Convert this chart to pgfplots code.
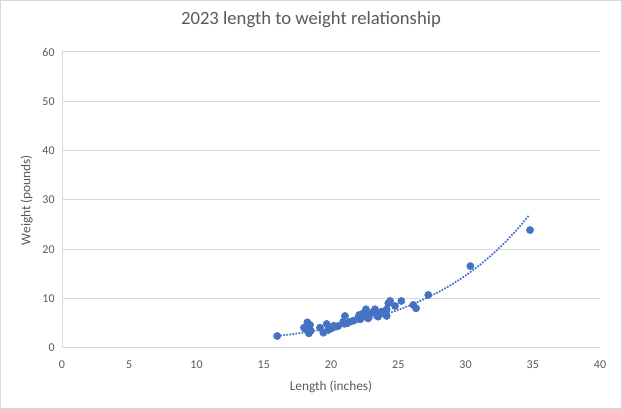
\documentclass[border=0pt]{standalone}
\usepackage{pgfplots}
\pgfplotsset{compat=1.18}
\usepackage{fontspec}
\setmainfont{Carlito}
\definecolor{mk}{HTML}{4472C4}
\definecolor{gridc}{HTML}{D9D9D9}
\definecolor{txt}{HTML}{595959}
\begin{document}
\begin{tikzpicture}[x=0.75pt,y=0.75pt]
\useasboundingbox (0,0) rectangle (622,409);
\draw[gridc,line width=0.75pt] (0.5,0.5) rectangle (621.5,408.5);
\node[txt,font=\fontsize{14}{16}\selectfont] at (311,389) {2023 length to weight relationship};
\begin{axis}[
  at={(46.5pt,45.75pt)}, anchor=origin,
  scale only axis, width=403.5pt, height=222pt,
  xmin=0, xmax=40, ymin=0, ymax=60,
  xtick={0,5,...,40}, ytick={0,10,...,60},
  ymajorgrids, grid style={gridc,line width=0.75pt},
  axis line style={gridc,line width=0.75pt},
  axis x line*=bottom, axis y line*=left,
  separate axis lines,
  major tick length=0pt,
  tick label style={txt,font=\fontsize{9}{10}\selectfont},
  xticklabel style={yshift=-6pt},
  yticklabel style={xshift=-2pt},
  /pgf/number format/assume math mode=true,
  xlabel={Length (inches)}, ylabel={Weight (pounds)},
  label style={txt,font=\fontsize{10}{11}\selectfont},
  xlabel style={yshift=-2.5pt},
  ylabel style={yshift=0.5pt},
  clip=false,
]
\addplot[mk, densely dotted, line width=1.3pt] coordinates {
(16,2.43) (17,2.76) (18,3.14) (19,3.57) (20,4.06) (21,4.62) (22,5.25) (23,5.97) (24,6.79) (25,7.72) (26,8.78) (27,9.98) (28,11.34) (29,12.90) (30,14.67) (31,16.67) (32,18.97) (33,21.56) (34,24.52) (34.7,26.82)
};
\addplot[only marks, mark=*, mark size=2.7pt, mk, mark options={draw=mk,fill=mk}] coordinates {
(16.0,2.43) (18.24,5.2) (18.44,4.67) (18.12,3.79) (18.49,3.51) (18.36,2.97) (17.99,4.12) (18.3,4.2)
(19.18,4.12) (19.43,3.1) (19.68,4.87) (20.05,4.0) (20.37,4.32) (20.54,4.46) (19.8,3.65) (20.2,4.5)
(21.04,6.49) (20.91,5.33) (21.2,5.0) (21.41,5.33) (21.66,5.54) (21.0,4.9)
(22.1,6.7) (22.16,5.8) (22.4,7.04) (22.6,7.85) (22.77,6.0) (22.03,6.2) (22.3,6.3) (22.9,6.8)
(23.27,7.85) (23.44,7.04) (23.5,6.35) (23.77,7.37) (24.0,6.9) (24.14,7.85) (24.26,9.07) (24.39,9.53) (24.14,6.49) (23.1,7.2)
(24.76,8.52) (25.23,9.53) (26.12,8.72) (26.32,8.05) (27.23,10.75) (30.36,16.6) (34.8,23.9)
};
\end{axis}
\end{tikzpicture}
\end{document}
